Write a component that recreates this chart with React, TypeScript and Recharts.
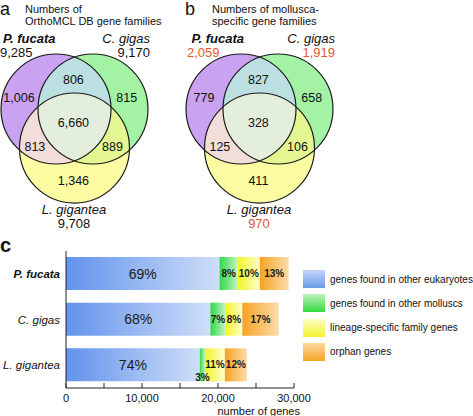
import React from "react";
import {
  ScatterChart,
  Scatter,
  XAxis,
  YAxis,
  BarChart,
  Bar,
  LabelList,
} from "recharts";

const FONT = '"Liberation Sans", Arial, Helvetica, sans-serif';
const ORANGE = "#e4572e";

// species shown in all three panels
const species = ["P. fucata", "C. gigas", "L. gigantea"];

// Venn regions: P only, P+G, G only, P+Y, all three, G+Y, Y only
const regionKeys = ["P", "PG", "G", "PY", "PGY", "GY", "Y"];
const orthoCounts = [1006, 806, 815, 813, 6660, 889, 1346];
const orthoTotals = [9285, 9170, 9708];
const molluscaCounts = [779, 827, 658, 125, 328, 106, 411];
const molluscaTotals = [2059, 1919, 970];

// panel c: gene counts per category
const eukaryoteGenes = [20200, 19000, 17600];
const molluscGenes = [2400, 2000, 700];
const lineageGenes = [2900, 2200, 2600];
const orphanGenes = [3800, 4800, 2900];
const eukaryotePct = [69, 68, 74];
const molluscPct = [8, 7, 3];
const lineagePct = [10, 8, 11];
const orphanPct = [13, 17, 12];
const seriesNames = [
  "genes found in other eukaryotes",
  "genes found in other molluscs",
  "lineage-specific family genes",
  "orphan genes",
];
const xTicks = [0, 5000, 10000, 15000, 20000, 25000, 30000];

const barRows = species.map((s, i) => ({
  species: s,
  euk: eukaryoteGenes[i],
  mol: molluscGenes[i],
  lin: lineageGenes[i],
  orph: orphanGenes[i],
  eukPct: eukaryotePct[i],
  molPct: molluscPct[i],
  linPct: lineagePct[i],
  orphPct: orphanPct[i],
}));

// venn geometry (venn units, radius 10)
const VENN_SIZE = 165;
const VENN_DOMAIN: [number, number] = [-15, 15];
const UNIT = VENN_SIZE / (VENN_DOMAIN[1] - VENN_DOMAIN[0]);
const RADIUS = 10;
const circleCenters: Record<string, [number, number]> = {
  P: [-3.36, 3.55],
  G: [3.36, 3.55],
  Y: [0, -3.55],
};
const regionAnchors: Record<string, [number, number]> = {
  P: [-10.1, 5.6],
  PG: [-0.2, 9.0],
  G: [9.5, 5.6],
  PY: [-7.2, -3.3],
  PGY: [-0.2, 1.1],
  GY: [6.9, -3.3],
  Y: [-0.2, -9.45],
};
const regionFill: Record<string, string> = {
  P: "#c9a2f1",
  G: "#a4f2a4",
  Y: "#fbfba2",
  PG: "#bcdfe2",
  PY: "#f2ddd8",
  GY: "#e4f692",
  PGY: "#e3efdc",
};

const circles = Object.keys(circleCenters).map((key) => ({
  key,
  x: circleCenters[key][0],
  y: circleCenters[key][1],
}));

const overlaps = [
  { key: "PG", over: "G", clips: ["P"] },
  { key: "PY", over: "Y", clips: ["P"] },
  { key: "GY", over: "Y", clips: ["G"] },
  { key: "PGY", over: "Y", clips: ["P", "G"] },
].map((o) => ({ ...o, x: circleCenters[o.over][0], y: circleCenters[o.over][1] }));

const fmt = (n: number) => n.toLocaleString("en-US");

const Venn = ({ id, counts }: { id: string; counts: number[] }) => {
  const r = RADIUS * UNIT;
  const labels = regionKeys.map((k, i) => ({
    x: regionAnchors[k][0],
    y: regionAnchors[k][1],
    value: counts[i],
  }));
  return (
    <ScatterChart
      width={VENN_SIZE}
      height={VENN_SIZE}
      margin={{ top: 0, right: 0, bottom: 0, left: 0 }}
    >
      <XAxis type="number" dataKey="x" domain={VENN_DOMAIN} allowDataOverflow hide />
      <YAxis type="number" dataKey="y" domain={VENN_DOMAIN} allowDataOverflow hide />
      {/* base circles, also define clip paths */}
      <Scatter
        data={circles}
        isAnimationActive={false}
        shape={(p: any) => (
          <g>
            <defs>
              <clipPath id={`${id}-${p.payload.key}`}>
                <circle cx={p.cx} cy={p.cy} r={r} />
              </clipPath>
            </defs>
            <circle cx={p.cx} cy={p.cy} r={r} fill={regionFill[p.payload.key]} />
          </g>
        )}
      />
      {/* overlap colours */}
      <Scatter
        data={overlaps}
        isAnimationActive={false}
        shape={(p: any) => {
          let node: React.ReactNode = (
            <circle cx={p.cx} cy={p.cy} r={r} fill={regionFill[p.payload.key]} />
          );
          for (const c of p.payload.clips) {
            node = <g clipPath={`url(#${id}-${c})`}>{node}</g>;
          }
          return <g>{node}</g>;
        }}
      />
      {/* outlines */}
      <Scatter
        data={circles}
        isAnimationActive={false}
        shape={(p: any) => (
          <circle cx={p.cx} cy={p.cy} r={r} fill="none" stroke="#1a1a1a" strokeWidth={1.2} />
        )}
      />
      <Scatter
        data={labels}
        isAnimationActive={false}
        shape={(p: any) => (
          <text
            x={p.cx}
            y={p.cy}
            dy="0.36em"
            textAnchor="middle"
            fontFamily={FONT}
            fontSize={12.5}
            fill="#111"
          >
            {fmt(p.payload.value)}
          </text>
        )}
      />
    </ScatterChart>
  );
};

const XTick = (props: any) => {
  const { x, y, payload } = props;
  if (payload.value % 10000 !== 0) return <g />;
  return (
    <text x={x} y={y} dy="0.35em" textAnchor="middle" fontFamily={FONT} fontSize={11} fill="#111">
      {fmt(payload.value)}
    </text>
  );
};

const YTick = (props: any) => {
  const { x, y, payload } = props;
  return (
    <text
      x={x}
      y={y}
      dy="0.35em"
      textAnchor="end"
      fontFamily={FONT}
      fontSize={11.5}
      fontStyle="italic"
      fontWeight={payload.value === species[0] ? "bold" : "normal"}
      fill="#111"
    >
      {payload.value}
    </text>
  );
};

const segLabel = (big: boolean) => (props: any) => {
  const { x, y, width, height, value } = props;
  const w = Number(width);
  const h = Number(height);
  const narrow = w < 12;
  return (
    <text
      x={Number(x) + w / 2}
      y={narrow ? Number(y) + h - 4 : Number(y) + h / 2}
      dy="0.36em"
      textAnchor="middle"
      fontFamily={FONT}
      fontSize={big ? 14 : 10}
      fontWeight={big ? "normal" : "bold"}
      fill="#1a1a1a"
    >
      {value}%
    </text>
  );
};

const barGradients = [
  { id: "gEuk", from: "#6293ec", to: "#cfdef9" },
  { id: "gMol", from: "#30d84a", to: "#c4f3c2" },
  { id: "gLin", from: "#f4f428", to: "#fdfdcc" },
  { id: "gOrph", from: "#f5a323", to: "#fcdcab" },
];

const legendSwatches = [
  "linear-gradient(#c3d5f7, #6a9be9)",
  "linear-gradient(#bff1bd, #33db3f)",
  "linear-gradient(#fdfdc6, #f4f42c)",
  "linear-gradient(#fbd8a2, #f5a526)",
];

const App = () => {
  const txt = { fontFamily: FONT, fill: "#111" };
  return (
    <div
      style={{
        position: "absolute",
        left: 0,
        top: 0,
        width: 473,
        height: 416,
        background: "#fff",
        overflow: "hidden",
      }}
    >
      <div style={{ position: "absolute", left: -8, top: 46 }}>
        <Venn id="va" counts={orthoCounts} />
      </div>
      <div style={{ position: "absolute", left: 177, top: 46 }}>
        <Venn id="vb" counts={molluscaCounts} />
      </div>

      <div style={{ position: "absolute", left: 0, top: 236 }}>
        <BarChart
          width={473}
          height={180}
          layout="vertical"
          data={barRows}
          margin={{ top: 15, right: 179, bottom: 0, left: 0 }}
          barSize={33}
        >
          <defs>
            {barGradients.map((g) => (
              <linearGradient key={g.id} id={g.id} x1="0" y1="0" x2="1" y2="0">
                <stop offset="0%" stopColor={g.from} />
                <stop offset="100%" stopColor={g.to} />
              </linearGradient>
            ))}
          </defs>
          <XAxis
            type="number"
            domain={[0, 30000]}
            ticks={xTicks}
            interval={0}
            height={28}
            tickSize={-5}
            tickMargin={15.5}
            axisLine={{ stroke: "#222" }}
            tickLine={{ stroke: "#222" }}
            tick={<XTick />}
          />
          <YAxis
            type="category"
            dataKey="species"
            width={66}
            tickSize={0}
            tickMargin={6}
            tickLine={false}
            axisLine={{ stroke: "#222" }}
            tick={<YTick />}
          />
          <Bar dataKey="euk" stackId="s" fill="url(#gEuk)" isAnimationActive={false}>
            <LabelList dataKey="eukPct" content={segLabel(true)} />
          </Bar>
          <Bar dataKey="mol" stackId="s" fill="url(#gMol)" isAnimationActive={false}>
            <LabelList dataKey="molPct" content={segLabel(false)} />
          </Bar>
          <Bar dataKey="lin" stackId="s" fill="url(#gLin)" isAnimationActive={false}>
            <LabelList dataKey="linPct" content={segLabel(false)} />
          </Bar>
          <Bar dataKey="orph" stackId="s" fill="url(#gOrph)" isAnimationActive={false}>
            <LabelList dataKey="orphPct" content={segLabel(false)} />
          </Bar>
        </BarChart>
      </div>

      {/* legend for panel c */}
      {seriesNames.map((name, i) => (
        <div
          key={name}
          style={{
            position: "absolute",
            left: 303,
            top: 270 + i * 24.3,
            height: 18,
            display: "flex",
            alignItems: "center",
            fontFamily: FONT,
            fontSize: 10,
            color: "#111",
            whiteSpace: "nowrap",
          }}
        >
          <div style={{ width: 22, height: 18, background: legendSwatches[i], marginRight: 5 }} />
          {name}
        </div>
      ))}

      {/* panel letters, headers and species labels */}
      <svg
        width={473}
        height={416}
        style={{ position: "absolute", left: 0, top: 0, pointerEvents: "none" }}
      >
        <text x={0} y={15} fontSize={18} {...txt}>a</text>
        <text x={25} y={12.5} fontSize={11} {...txt}>Numbers of</text>
        <text x={25} y={25} fontSize={11} {...txt}>OrthoMCL DB gene families</text>
        <text x={3} y={43} fontSize={13} fontWeight="bold" fontStyle="italic" {...txt}>{species[0]}</text>
        <text x={0} y={57} fontSize={13} {...txt}>{fmt(orthoTotals[0])}</text>
        <text x={150} y={43} fontSize={13} fontStyle="italic" textAnchor="end" {...txt}>{species[1]}</text>
        <text x={150} y={57} fontSize={13} textAnchor="end" {...txt}>{fmt(orthoTotals[1])}</text>
        <text x={74} y={214} fontSize={13} fontStyle="italic" textAnchor="middle" {...txt}>{species[2]}</text>
        <text x={74} y={228} fontSize={13} textAnchor="middle" {...txt}>{fmt(orthoTotals[2])}</text>

        <text x={185} y={15} fontSize={18} {...txt}>b</text>
        <text x={212} y={12.5} fontSize={11} {...txt}>Numbers of mollusca-</text>
        <text x={212} y={25} fontSize={11} {...txt}>specific gene families</text>
        <text x={191.5} y={43} fontSize={13} fontWeight="bold" fontStyle="italic" {...txt}>{species[0]}</text>
        <text x={187} y={57} fontSize={13} {...txt} fill={ORANGE}>{fmt(molluscaTotals[0])}</text>
        <text x={335} y={43} fontSize={13} fontStyle="italic" textAnchor="end" {...txt}>{species[1]}</text>
        <text x={335} y={57} fontSize={13} textAnchor="end" {...txt} fill={ORANGE}>{fmt(molluscaTotals[1])}</text>
        <text x={259} y={214} fontSize={13} fontStyle="italic" textAnchor="middle" {...txt}>{species[2]}</text>
        <text x={259} y={228} fontSize={13} textAnchor="middle" {...txt} fill={ORANGE}>{fmt(molluscaTotals[2])}</text>

        <text x={0} y={252} fontSize={20} fontWeight="bold" {...txt}>c</text>
        <text x={300} y={415} fontSize={11} textAnchor="end" {...txt}>number of genes</text>
      </svg>
    </div>
  );
};

export default App;
